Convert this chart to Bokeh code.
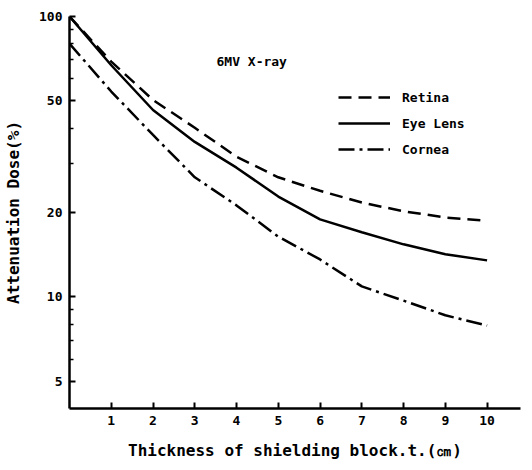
from bokeh.plotting import figure
from bokeh.models import Range1d, FixedTicker, Legend, LegendItem, Label
from bokeh.embed import file_html
from bokeh.resources import INLINE

thickness = [0, 1, 2, 3, 4, 5, 6, 7, 8, 9, 10]
retina = [100, 69, 50.4, 40.1, 31.6, 26.7, 23.9, 21.7, 20.2, 19.2, 18.7]
eye_lens = [100, 67, 46.4, 35.7, 28.9, 22.8, 18.9, 17.0, 15.4, 14.2, 13.5]
cornea = [80, 54, 37.8, 26.7, 21.2, 16.4, 13.6, 10.9, 9.7, 8.6, 7.9]

x_ticks = [1, 2, 3, 4, 5, 6, 7, 8, 9, 10]
y_ticks = [5, 10, 20, 50, 100]
y_minor = [6, 7, 8, 9, 30, 40, 60, 70, 80, 90]

FONT = "DejaVu Sans Mono"

p = figure(width=524, height=462, y_axis_type="log",
           x_range=Range1d(0, 10.8), y_range=Range1d(4, 100),
           output_backend="svg", toolbar_location=None,
           min_border_left=69, min_border_right=4, min_border_top=16, min_border_bottom=52)
p.outline_line_color = None
p.xgrid.visible = False
p.ygrid.visible = False

r1 = p.line(thickness, retina, line_color="black", line_width=2.5, line_dash="13 7")
r2 = p.line(thickness, eye_lens, line_color="black", line_width=2.5)
r3 = p.line(thickness, cornea, line_color="black", line_width=2.5, line_dash="16 5 3 5")

for ax in (p.xaxis[0], p.yaxis[0]):
    ax.axis_line_width = 2.5
    ax.axis_line_color = "black"
    ax.major_tick_in = 6
    ax.major_tick_out = 0
    ax.major_tick_line_width = 2
    ax.major_tick_line_color = "black"
    ax.minor_tick_in = 4
    ax.minor_tick_out = 0
    ax.minor_tick_line_width = 1.5
    ax.minor_tick_line_color = "black"
    ax.major_label_text_font = FONT
    ax.major_label_text_font_style = "bold"
    ax.major_label_text_font_size = "13px"
    ax.major_label_text_color = "black"
    ax.axis_label_text_font = FONT
    ax.axis_label_text_font_style = "bold"
    ax.axis_label_text_font_size = "16px"
    ax.axis_label_text_color = "black"
    ax.major_label_standoff = 7

p.xaxis[0].ticker = FixedTicker(ticks=x_ticks, minor_ticks=[])
p.yaxis[0].ticker = FixedTicker(ticks=y_ticks, minor_ticks=y_minor)
p.yaxis[0].major_label_overrides = {5: "5", 10: "10", 20: "20", 50: "50", 100: "100"}
p.xaxis[0].axis_label = "Thickness of shielding block.t.(㎝)"
p.yaxis[0].axis_label = "Attenuation Dose(%)"
p.xaxis[0].axis_label_standoff = 13
p.yaxis[0].axis_label_standoff = 13

legend = Legend(items=[LegendItem(label="Retina", renderers=[r1]),
                       LegendItem(label="Eye Lens", renderers=[r2]),
                       LegendItem(label="Cornea", renderers=[r3])],
                location=(269, 249), orientation="vertical",
                border_line_color=None, background_fill_alpha=0,
                glyph_width=52, glyph_height=20, spacing=6, padding=0, margin=0,
                label_standoff=12, label_text_font=FONT, label_text_font_style="bold",
                label_text_font_size="13px", label_text_color="black")
p.add_layout(legend, "center")

p.add_layout(Label(x=147, y=347, x_units="screen", y_units="screen", text="6MV X-ray",
                   text_font=FONT, text_font_style="bold", text_font_size="13px",
                   text_color="black", text_baseline="middle"))

open("out.html", "w").write(file_html(p, INLINE))
